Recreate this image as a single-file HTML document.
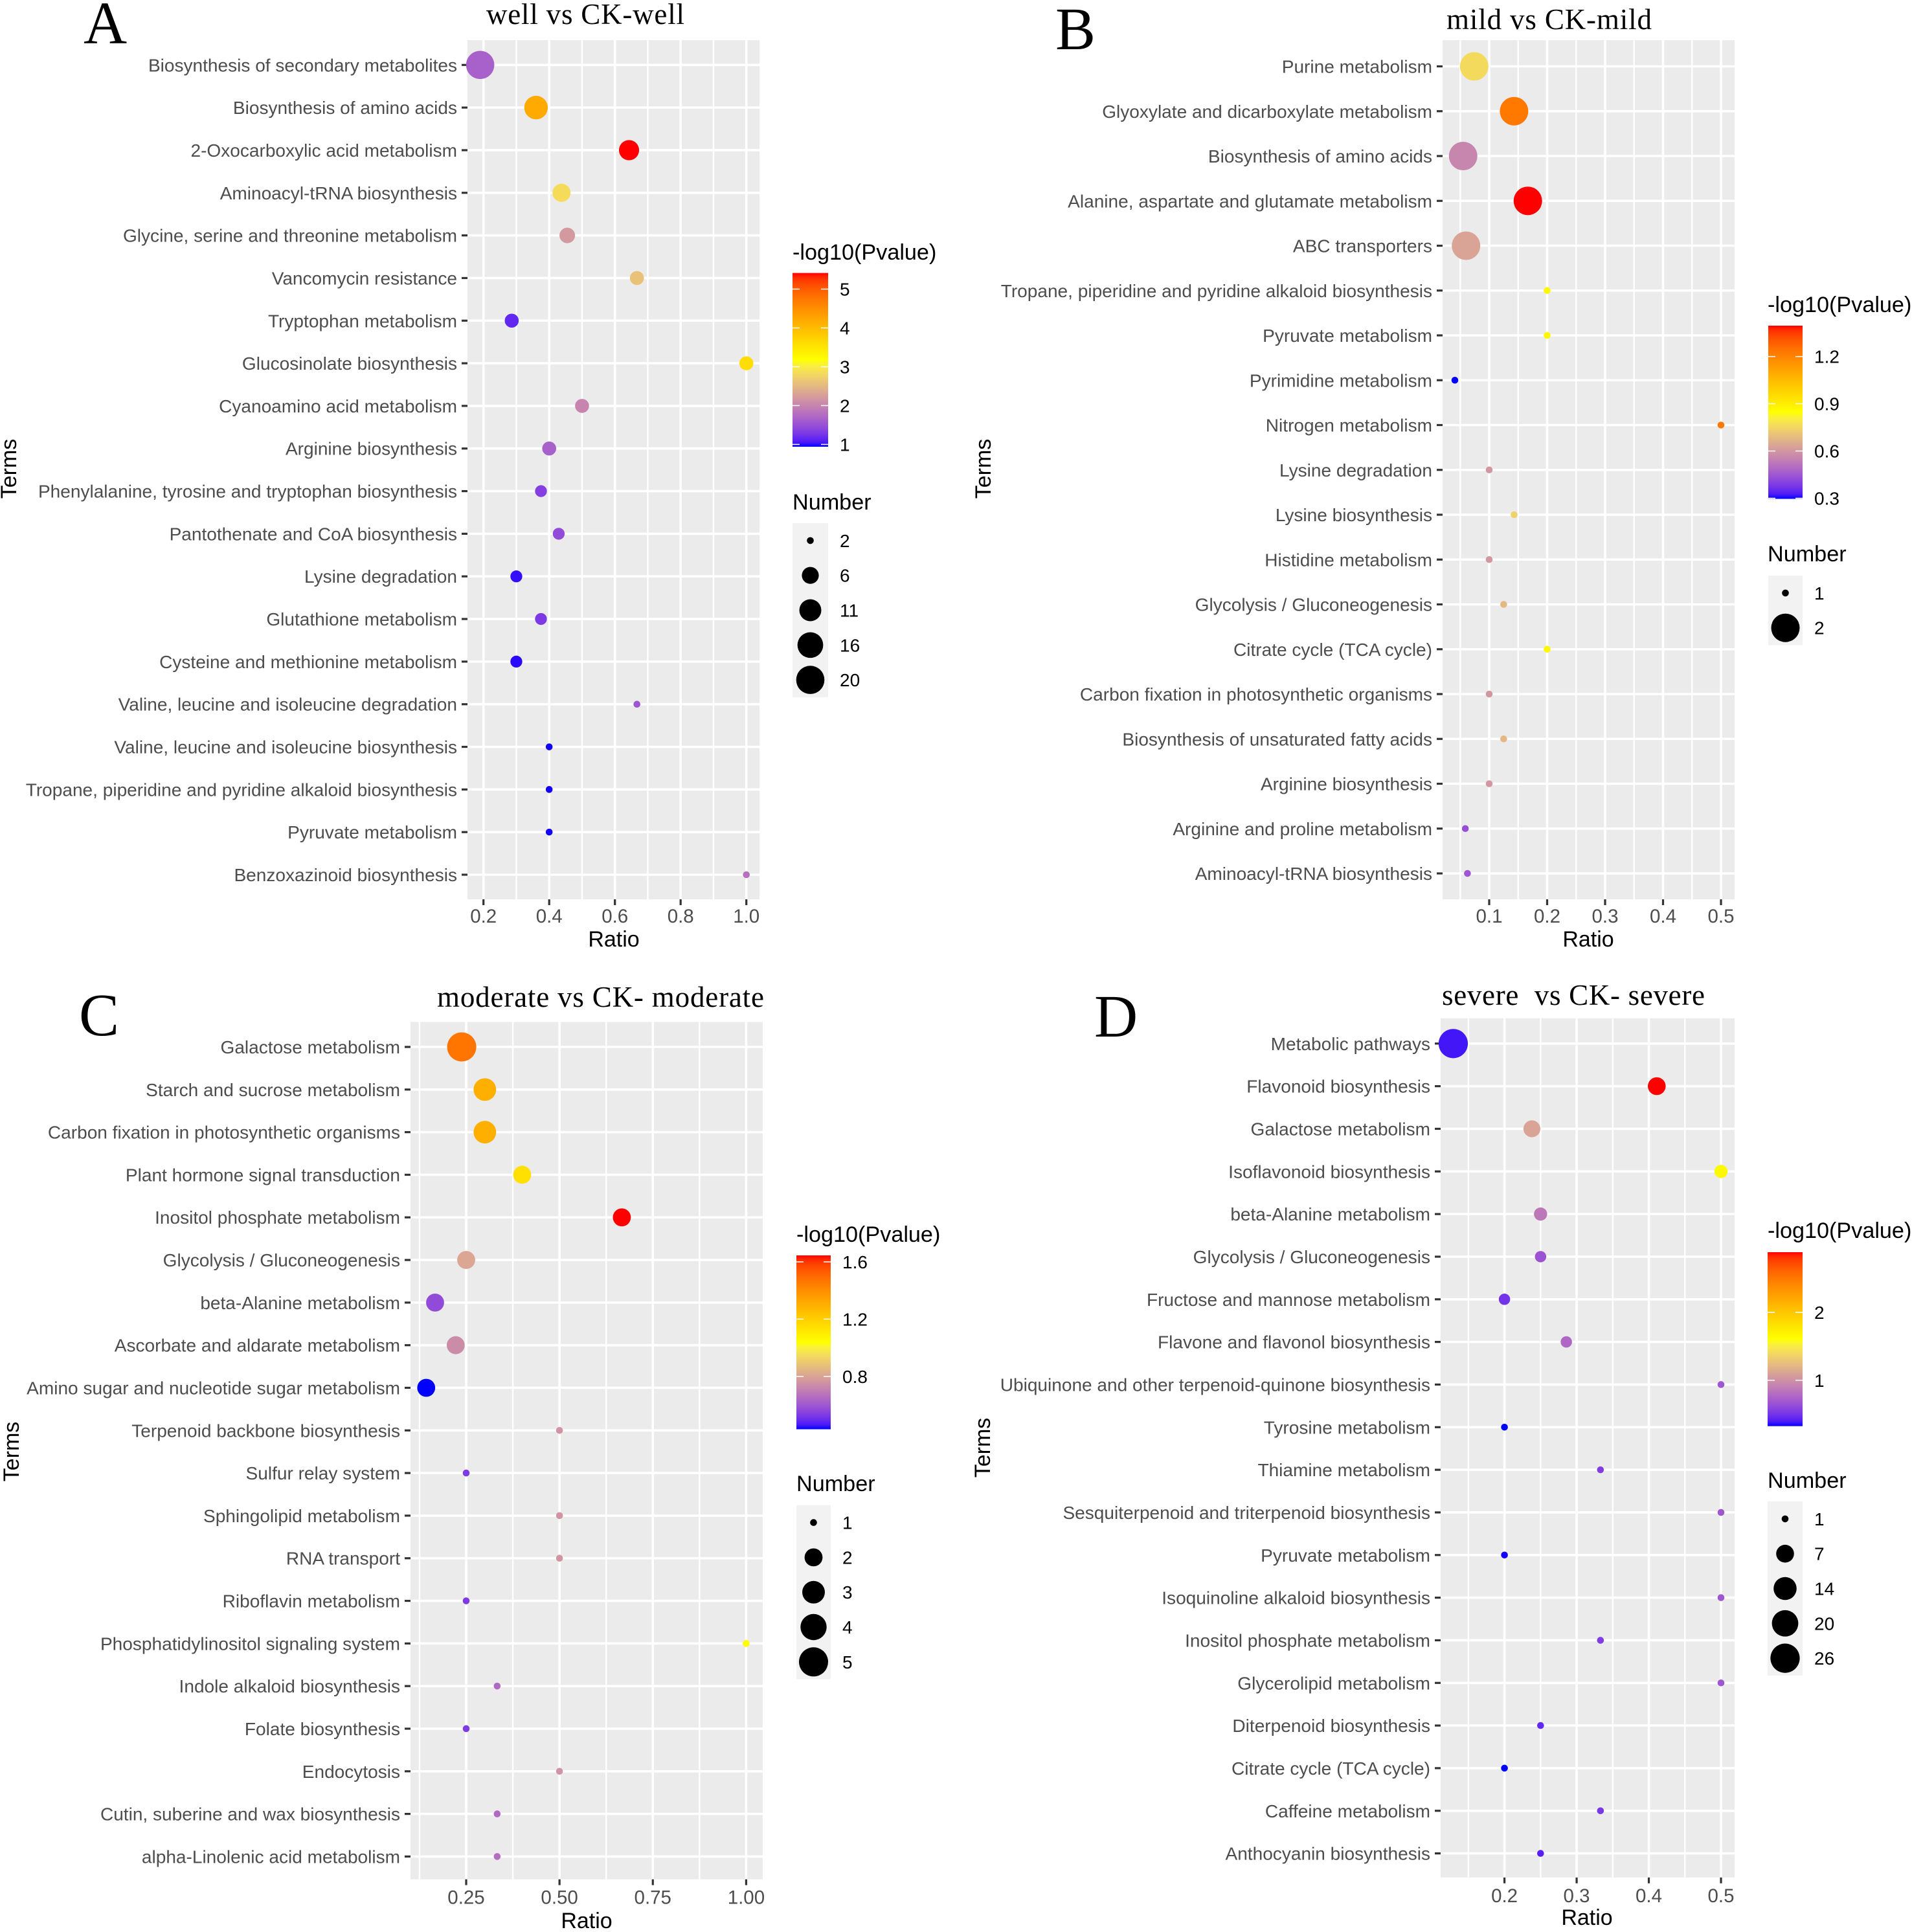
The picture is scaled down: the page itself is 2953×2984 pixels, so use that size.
<!DOCTYPE html>
<html lang="en">
<head>
<meta charset="utf-8">
<title>Pathway enrichment bubble charts</title>
<style>
html,body{margin:0;padding:0;background:#fff;}
svg{display:block;}
text{font-family:"Liberation Sans",sans-serif;}
.serif{font-family:"Liberation Serif",serif;fill:#000;}
.axis-title{font-size:34px;fill:#000;text-anchor:middle;}
.legend-title{font-size:34.2px;fill:#000;}
</style>
</head>
<body>
<svg id="figure" xmlns="http://www.w3.org/2000/svg" width="2953" height="2984" viewBox="0 0 2953 2984">
  <defs>
    <linearGradient id="pvalue-gradient" x1="0" y1="1" x2="0" y2="0"></linearGradient>
  </defs>
  <rect width="2953" height="2984" fill="#fff"></rect>

  <g id="panel-a">
    <text class="serif" x="129" y="67" font-size="93">A</text>
    <text class="serif" x="751" y="37" font-size="45" textLength="306">well vs CK-well</text>
    <text class="axis-title" x="948" y="1462">Ratio</text>
    <text class="axis-title" transform="translate(25,724) rotate(-90)">Terms</text>
    <text class="legend-title" x="1224" y="401">-log10(Pvalue)</text>
    <text class="legend-title" x="1224" y="787">Number</text>
  </g>

  <g id="panel-b">
    <text class="serif" x="1630" y="76" font-size="93">B</text>
    <text class="serif" x="2234" y="45" font-size="45" textLength="317">mild vs CK-mild</text>
    <text class="axis-title" x="2453" y="1462">Ratio</text>
    <text class="axis-title" transform="translate(1530,724) rotate(-90)">Terms</text>
    <text class="legend-title" x="2730" y="482">-log10(Pvalue)</text>
    <text class="legend-title" x="2730" y="867">Number</text>
  </g>

  <g id="panel-c">
    <text class="serif" x="122" y="1599" font-size="93">C</text>
    <text class="serif" x="675" y="1555" font-size="45" textLength="505">moderate vs CK- moderate</text>
    <text class="axis-title" x="906" y="2978">Ratio</text>
    <text class="axis-title" transform="translate(29,2242) rotate(-90)">Terms</text>
    <text class="legend-title" x="1230" y="1918">-log10(Pvalue)</text>
    <text class="legend-title" x="1230" y="2303">Number</text>
  </g>

  <g id="panel-d">
    <text class="serif" x="1690" y="1601" font-size="93">D</text>
    <text class="serif" x="2227" y="1552" font-size="45" textLength="406" style="white-space:pre">severe  vs CK- severe</text>
    <text class="axis-title" x="2451" y="2973">Ratio</text>
    <text class="axis-title" transform="translate(1529,2236) rotate(-90)">Terms</text>
    <text class="legend-title" x="2730" y="1912">-log10(Pvalue)</text>
    <text class="legend-title" x="2730" y="2298">Number</text>
  </g>
</svg>

<script>
/* ---------- Panel A data ---------- */
const termsA = ["Biosynthesis of secondary metabolites","Biosynthesis of amino acids","2-Oxocarboxylic acid metabolism","Aminoacyl-tRNA biosynthesis","Glycine, serine and threonine metabolism","Vancomycin resistance","Tryptophan metabolism","Glucosinolate biosynthesis","Cyanoamino acid metabolism","Arginine biosynthesis","Phenylalanine, tyrosine and tryptophan biosynthesis","Pantothenate and CoA biosynthesis","Lysine degradation","Glutathione metabolism","Cysteine and methionine metabolism","Valine, leucine and isoleucine degradation","Valine, leucine and isoleucine biosynthesis","Tropane, piperidine and pyridine alkaloid biosynthesis","Pyruvate metabolism","Benzoxazinoid biosynthesis"];
const ratioA = [0.19,0.36,0.643,0.4375,0.455,0.667,0.286,1.0,0.5,0.4,0.375,0.429,0.3,0.375,0.3,0.667,0.4,0.4,0.4,1.0];
const pvalueA = [1.65,4.2,5.415,2.85,2.2,2.6,1.15,3.6,2.0,1.65,1.35,1.45,1.0,1.3,0.98,1.55,0.95,0.95,0.95,1.8];
const countA = [20,13,9,7,5,4,4,4,4,4,3,3,3,3,3,2,2,2,2,2];
const xTicksA = [0.2,0.4,0.6,0.8,1.0];
const xTickLabelsA = ["0.2","0.4","0.6","0.8","1.0"];
const xMinorA = [0.3,0.5,0.7,0.9];
const colorDomainA = [0.94,5.415];
const colorTicksA = [1,2,3,4,5];
const colorTickLabelsA = ["1","2","3","4","5"];
const sizeKeysA = [2,6,11,16,20];

/* ---------- Panel B data ---------- */
const termsB = ["Purine metabolism","Glyoxylate and dicarboxylate metabolism","Biosynthesis of amino acids","Alanine, aspartate and glutamate metabolism","ABC transporters","Tropane, piperidine and pyridine alkaloid biosynthesis","Pyruvate metabolism","Pyrimidine metabolism","Nitrogen metabolism","Lysine degradation","Lysine biosynthesis","Histidine metabolism","Glycolysis / Gluconeogenesis","Citrate cycle (TCA cycle)","Carbon fixation in photosynthetic organisms","Biosynthesis of unsaturated fatty acids","Arginine biosynthesis","Arginine and proline metabolism","Aminoacyl-tRNA biosynthesis"];
const ratioB = [0.0741,0.1429,0.055,0.1667,0.06,0.2,0.2,0.0408,0.5,0.1,0.143,0.1,0.125,0.2,0.1,0.125,0.1,0.0588,0.0625];
const pvalueB = [0.76,1.23,0.56,1.396,0.63,0.87,0.87,0.296,1.23,0.6,0.74,0.6,0.68,0.87,0.6,0.68,0.6,0.43,0.45];
const countB = [2,2,2,2,2,1,1,1,1,1,1,1,1,1,1,1,1,1,1];
const xTicksB = [0.1,0.2,0.3,0.4,0.5];
const xTickLabelsB = ["0.1","0.2","0.3","0.4","0.5"];
const xMinorB = [0.05,0.15,0.25,0.35,0.45];
const colorDomainB = [0.296,1.396];
const colorTicksB = [0.3,0.6,0.9,1.2];
const colorTickLabelsB = ["0.3","0.6","0.9","1.2"];
const sizeKeysB = [1,2];

/* ---------- Panel C data ---------- */
const termsC = ["Galactose metabolism","Starch and sucrose metabolism","Carbon fixation in photosynthetic organisms","Plant hormone signal transduction","Inositol phosphate metabolism","Glycolysis / Gluconeogenesis","beta-Alanine metabolism","Ascorbate and aldarate metabolism","Amino sugar and nucleotide sugar metabolism","Terpenoid backbone biosynthesis","Sulfur relay system","Sphingolipid metabolism","RNA transport","Riboflavin metabolism","Phosphatidylinositol signaling system","Indole alkaloid biosynthesis","Folate biosynthesis","Endocytosis","Cutin, suberine and wax biosynthesis","alpha-Linolenic acid metabolism"];
const ratioC = [0.238,0.3,0.3,0.4,0.667,0.25,0.1667,0.222,0.1429,0.5,0.25,0.5,0.5,0.25,1.0,0.333,0.25,0.5,0.333,0.333];
const pvalueC = [1.47,1.3,1.3,1.14,1.645,0.81,0.57,0.74,0.431,0.76,0.53,0.76,0.76,0.53,1.04,0.65,0.53,0.76,0.65,0.66];
const countC = [5,3,3,2,2,2,2,2,2,1,1,1,1,1,1,1,1,1,1,1];
const xTicksC = [0.25,0.5,0.75,1.0];
const xTickLabelsC = ["0.25","0.50","0.75","1.00"];
const xMinorC = [0.125,0.375,0.625,0.875];
const colorDomainC = [0.431,1.645];
const colorTicksC = [0.8,1.2,1.6];
const colorTickLabelsC = ["0.8","1.2","1.6"];
const sizeKeysC = [1,2,3,4,5];

/* ---------- Panel D data ---------- */
const termsD = ["Metabolic pathways","Flavonoid biosynthesis","Galactose metabolism","Isoflavonoid biosynthesis","beta-Alanine metabolism","Glycolysis / Gluconeogenesis","Fructose and mannose metabolism","Flavone and flavonol biosynthesis","Ubiquinone and other terpenoid-quinone biosynthesis","Tyrosine metabolism","Thiamine metabolism","Sesquiterpenoid and triterpenoid biosynthesis","Pyruvate metabolism","Isoquinoline alkaloid biosynthesis","Inositol phosphate metabolism","Glycerolipid metabolism","Diterpenoid biosynthesis","Citrate cycle (TCA cycle)","Caffeine metabolism","Anthocyanin biosynthesis"];
const ratioD = [0.129,0.411,0.238,0.5,0.25,0.25,0.2,0.2857,0.5,0.2,0.333,0.5,0.2,0.5,0.333,0.5,0.25,0.2,0.333,0.25];
const pvalueD = [0.38,2.884,1.1,1.65,0.86,0.66,0.5,0.77,0.68,0.325,0.55,0.68,0.33,0.68,0.55,0.68,0.45,0.325,0.52,0.42];
const countD = [26,7,6,3,3,2,2,2,1,1,1,1,1,1,1,1,1,1,1,1];
const xTicksD = [0.2,0.3,0.4,0.5];
const xTickLabelsD = ["0.2","0.3","0.4","0.5"];
const xMinorD = [0.15,0.25,0.35,0.45];
const colorDomainD = [0.325,2.884];
const colorTicksD = [1,2];
const colorTickLabelsD = ["1","2"];
const sizeKeysD = [1,7,14,20,26];

/* ---------- Layout (geometry only) ---------- */
const NS = "http://www.w3.org/2000/svg";
const svg = document.getElementById("figure");

function node(parent, tag, attrs, txt) {
  const n = document.createElementNS(NS, tag);
  for (const k in attrs) n.setAttribute(k, attrs[k]);
  if (txt !== undefined) n.textContent = txt;
  parent.appendChild(n);
  return n;
}

/* Lab interpolation, as used by ggplot2 gradients */
function rgbToLab(c) {
  const lin = c.map(v => { v /= 255; return v > 0.04045 ? Math.pow((v + 0.055) / 1.055, 2.4) : v / 12.92; });
  const X = (0.4124564 * lin[0] + 0.3575761 * lin[1] + 0.1804375 * lin[2]) / 0.95047;
  const Y = 0.2126729 * lin[0] + 0.7151522 * lin[1] + 0.0721750 * lin[2];
  const Z = (0.0193339 * lin[0] + 0.1191920 * lin[1] + 0.9503041 * lin[2]) / 1.08883;
  const f = t => t > 0.008856 ? Math.cbrt(t) : 7.787 * t + 16 / 116;
  return [116 * f(Y) - 16, 500 * (f(X) - f(Y)), 200 * (f(Y) - f(Z))];
}
function labToHex(l) {
  const fy = (l[0] + 16) / 116, fx = fy + l[1] / 500, fz = fy - l[2] / 200;
  const g = t => t * t * t > 0.008856 ? t * t * t : (t - 16 / 116) / 7.787;
  const X = g(fx) * 0.95047, Y = g(fy), Z = g(fz) * 1.08883;
  const rgb = [
    3.2404542 * X - 1.5371385 * Y - 0.4985314 * Z,
    -0.9692660 * X + 1.8760108 * Y + 0.0415560 * Z,
    0.0556434 * X - 0.2040259 * Y + 1.0572252 * Z
  ].map(v => {
    v = Math.max(0, Math.min(1, v));
    v = v > 0.0031308 ? 1.055 * Math.pow(v, 1 / 2.4) - 0.055 : 12.92 * v;
    return Math.round(v * 255);
  });
  return "#" + rgb.map(v => v.toString(16).padStart(2, "0")).join("");
}
const labBlue = rgbToLab([0, 0, 255]);
const labYellow = rgbToLab([255, 255, 0]);
const labRed = rgbToLab([255, 0, 0]);
function gradientColor(t) {
  t = Math.max(0, Math.min(1, t));
  const a = t < 0.5 ? labBlue : labYellow;
  const b = t < 0.5 ? labYellow : labRed;
  const u = t < 0.5 ? t * 2 : (t - 0.5) * 2;
  return labToHex([a[0] + (b[0] - a[0]) * u, a[1] + (b[1] - a[1]) * u, a[2] + (b[2] - a[2]) * u]);
}
const gradientDef = document.getElementById("pvalue-gradient");
for (let i = 0; i <= 40; i++) {
  node(gradientDef, "stop", { offset: (i / 40), "stop-color": gradientColor(i / 40) });
}

function drawPanel(p) {
  const root = document.getElementById("panel-" + p.id);
  const plot = node(root, "g", {});
  
  

  /* axis functions */
  const t0 = p.xTicks[0], t1 = p.xTicks[p.xTicks.length - 1];
  const xScale = v => p.tickLeft + (v - t0) / (t1 - t0) * (p.tickRight - p.tickLeft);
  const yScale = i => p.rowTop + i * (p.rowBottom - p.rowTop) / (p.terms.length - 1);
  const colorT = v => (v - p.colorDomain[0]) / (p.colorDomain[1] - p.colorDomain[0]);
  const barY = v => p.barBottom - colorT(v) * (p.barBottom - p.barTop);
  const nMin = p.sizeKeys[0], nMax = p.sizeKeys[p.sizeKeys.length - 1];
  const radius = n => p.rMin + (p.rMax - p.rMin) * Math.sqrt((n - nMin) / (nMax - nMin));

  const bg = node(plot, "rect", { x: p.left, y: p.top, width: p.right - p.left, height: p.bottom - p.top, fill: "#ebebeb" });
  
  

  p.xMinor.forEach(v => {
    if (xScale(v) < p.left || xScale(v) > p.right) return;
    const g = node(plot, "line", { x1: xScale(v), x2: xScale(v), y1: p.top, y2: p.bottom, stroke: "#fff", "stroke-width": 2.4 });
    
    
  });
  p.xTicks.forEach((v, i) => {
    const x = xScale(v);
    const g = node(plot, "line", { x1: x, x2: x, y1: p.top, y2: p.bottom, stroke: "#fff", "stroke-width": 3.6 });
    
    
    const tick = node(plot, "line", { x1: x, x2: x, y1: p.bottom, y2: p.bottom + 9, stroke: "#333", "stroke-width": 3.2 });
    
    
    const label = node(plot, "text", { x: x, y: p.bottom + p.xLabelDy, "font-size": 29.5, fill: "#4d4d4d", "text-anchor": "middle" }, p.xTickLabels[i]);
    
    
  });
  p.terms.forEach((term, i) => {
    const y = yScale(i);
    const g = node(plot, "line", { x1: p.left, x2: p.right, y1: y, y2: y, stroke: "#fff", "stroke-width": 3.6 });
    
    
    const tick = node(plot, "line", { x1: p.left - 9, x2: p.left, y1: y, y2: y, stroke: "#333", "stroke-width": 3.2 });
    
    
    const label = node(plot, "text", { x: p.left - 16, y: y + 10, "font-size": 28.05, fill: "#4d4d4d", "text-anchor": "end" }, term);
    
    
  });
  p.terms.forEach((term, i) => {
    const dot = node(plot, "circle", {
      cx: xScale(p.ratio[i]),
      cy: yScale(i),
      r: radius(p.count[i]),
      fill: gradientColor(colorT(p.pvalue[i]))
    });
    
    
  });

  /* colour legend */
  const bar = node(plot, "rect", { x: p.legendX, y: p.barTop, width: p.legendW, height: p.barBottom - p.barTop, fill: "url(#pvalue-gradient)" });
  
  
  p.colorTicks.forEach((v, i) => {
    const y = barY(v);
    const left = node(plot, "line", { x1: p.legendX, x2: p.legendX + 11, y1: y, y2: y, stroke: "#fff", "stroke-width": 1.5 });
    
    
    const right = node(plot, "line", { x1: p.legendX + p.legendW - 11, x2: p.legendX + p.legendW, y1: y, y2: y, stroke: "#fff", "stroke-width": 1.5 });
    
    
    const label = node(plot, "text", { x: p.legendX + p.legendW + 18, y: y + 10, "font-size": 28, fill: "#000" }, p.colorTickLabels[i]);
    
    
  });

  /* size legend */
  const keyH = 53.8;
  const keyBg = node(plot, "rect", { x: p.legendX, y: p.sizeTop, width: p.legendW, height: keyH * p.sizeKeys.length, fill: "#f2f2f2" });
  
  
  p.sizeKeys.forEach((n, i) => {
    const y = p.sizeTop + keyH * (i + 0.5);
    const dot = node(plot, "circle", { cx: p.legendX + p.legendW / 2, cy: y, r: radius(n), fill: "#000" });
    
    
    const label = node(plot, "text", { x: p.legendX + p.legendW + 18, y: y + 10, "font-size": 28, fill: "#000" }, String(n));
    
    
  });
}

drawPanel({
  id: "a", terms: termsA, ratio: ratioA, pvalue: pvalueA, count: countA,
  xTicks: xTicksA, xTickLabels: xTickLabelsA, xMinor: xMinorA,
  colorDomain: colorDomainA, colorTicks: colorTicksA, colorTickLabels: colorTickLabelsA, sizeKeys: sizeKeysA,
  left: 722, right: 1173, top: 62, bottom: 1389, tickLeft: 746.7, tickRight: 1152.7,
  rowTop: 100.3, rowBottom: 1351, xLabelDy: 36,
  legendX: 1224, legendW: 55, barTop: 421.6, barBottom: 690, sizeTop: 808, rMin: 5.3, rMax: 21.8
});
drawPanel({
  id: "b", terms: termsB, ratio: ratioB, pvalue: pvalueB, count: countB,
  xTicks: xTicksB, xTickLabels: xTickLabelsB, xMinor: xMinorB,
  colorDomain: colorDomainB, colorTicks: colorTicksB, colorTickLabels: colorTickLabelsB, sizeKeys: sizeKeysB,
  left: 2228, right: 2679, top: 62, bottom: 1389, tickLeft: 2300, tickRight: 2658,
  rowTop: 102.5, rowBottom: 1349, xLabelDy: 36,
  legendX: 2731, legendW: 53, barTop: 503, barBottom: 770.5, sizeTop: 889, rMin: 5.3, rMax: 22
});
drawPanel({
  id: "c", terms: termsC, ratio: ratioC, pvalue: pvalueC, count: countC,
  xTicks: xTicksC, xTickLabels: xTickLabelsC, xMinor: xMinorC,
  colorDomain: colorDomainC, colorTicks: colorTicksC, colorTickLabels: colorTickLabelsC, sizeKeys: sizeKeysC,
  left: 634, right: 1178, top: 1578.5, bottom: 2902.6, tickLeft: 720, tickRight: 1152.4,
  rowTop: 1617, rowBottom: 2867.4, xLabelDy: 38,
  legendX: 1230, legendW: 53, barTop: 1939, barBottom: 2207.5, sizeTop: 2324.7, rMin: 5.3, rMax: 22.5
});
drawPanel({
  id: "d", terms: termsD, ratio: ratioD, pvalue: pvalueD, count: countD,
  xTicks: xTicksD, xTickLabels: xTickLabelsD, xMinor: xMinorD,
  colorDomain: colorDomainD, colorTicks: colorTicksD, colorTickLabels: colorTickLabelsD, sizeKeys: sizeKeysD,
  left: 2225, right: 2679, top: 1572.8, bottom: 2899.8, tickLeft: 2323.6, tickRight: 2658,
  rowTop: 1611.8, rowBottom: 2862.6, xLabelDy: 38,
  legendX: 2730, legendW: 54, barTop: 1934, barBottom: 2202.7, sizeTop: 2319, rMin: 5.3, rMax: 22.6
});
</script>
</body>
</html>
